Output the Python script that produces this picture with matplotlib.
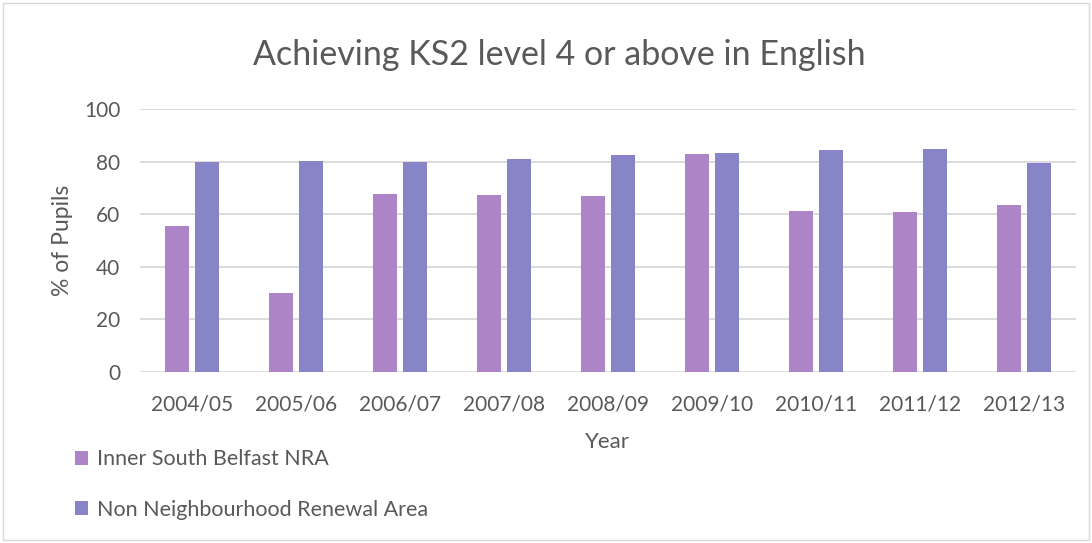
import numpy as np
import matplotlib
matplotlib.use("Agg")
import matplotlib.pyplot as plt
from matplotlib.patches import Rectangle

plt.rcParams["font.family"] = ["Lato", "DejaVu Sans"]

years = ["2004/05", "2005/06", "2006/07", "2007/08", "2008/09",
         "2009/10", "2010/11", "2011/12", "2012/13"]
inner_south = [55.7, 30.2, 67.9, 67.5, 66.8, 82.8, 61.1, 60.7, 63.4]
non_nra = [79.8, 80.2, 79.8, 80.9, 82.4, 83.5, 84.3, 84.7, 79.4]
series_names = ["Inner South Belfast NRA", "Non Neighbourhood Renewal Area"]

TXT = "#595959"
fig = plt.figure(figsize=(10.92, 5.43), dpi=100)
ax = fig.add_axes([0.128, 0.315, 0.857, 0.484])

x = np.arange(len(years))
w = 0.23
ax.bar(x - 0.145, inner_south, w, color="#ad84c6", label=series_names[0], zorder=3)
ax.bar(x + 0.145, non_nra, w, color="#8784c7", label=series_names[1], zorder=3)

ax.set_xlim(-0.5, len(years) - 0.5)
ax.set_ylim(0, 100)
ax.set_yticks(range(0, 101, 20))
ax.set_xticks(x, years)
ax.grid(axis="y", color="#d9d9d9", lw=1.3, zorder=0)
for s in ax.spines.values():
    s.set_visible(False)
ax.tick_params(length=0, labelsize=15, colors=TXT)
ax.tick_params(axis="x", pad=16)
ax.tick_params(axis="y", pad=14)
ax.set_ylabel("% of Pupils", fontsize=16.5, color=TXT, labelpad=8)
ax.set_xlabel("Year", fontsize=16, color=TXT, labelpad=13)

fig.text(0.512, 0.898, "Achieving KS2 level 4 or above in English",
         ha="center", va="center", fontsize=24.5, color=TXT)

leg = fig.legend(loc="upper left", frameon=False, fontsize=15.5,
                 labelcolor=TXT, handlelength=0.6, handleheight=0.6,
                 handletextpad=0.4, labelspacing=1.4)
leg.set_bbox_to_anchor((0.051, 0.208), transform=fig.transFigure)

fig.add_artist(Rectangle((0.003, 0.005), 0.994, 0.99, transform=fig.transFigure,
                         fill=False, ec="#d9d9d9", lw=1))

fig.savefig("out.png", dpi=100)
